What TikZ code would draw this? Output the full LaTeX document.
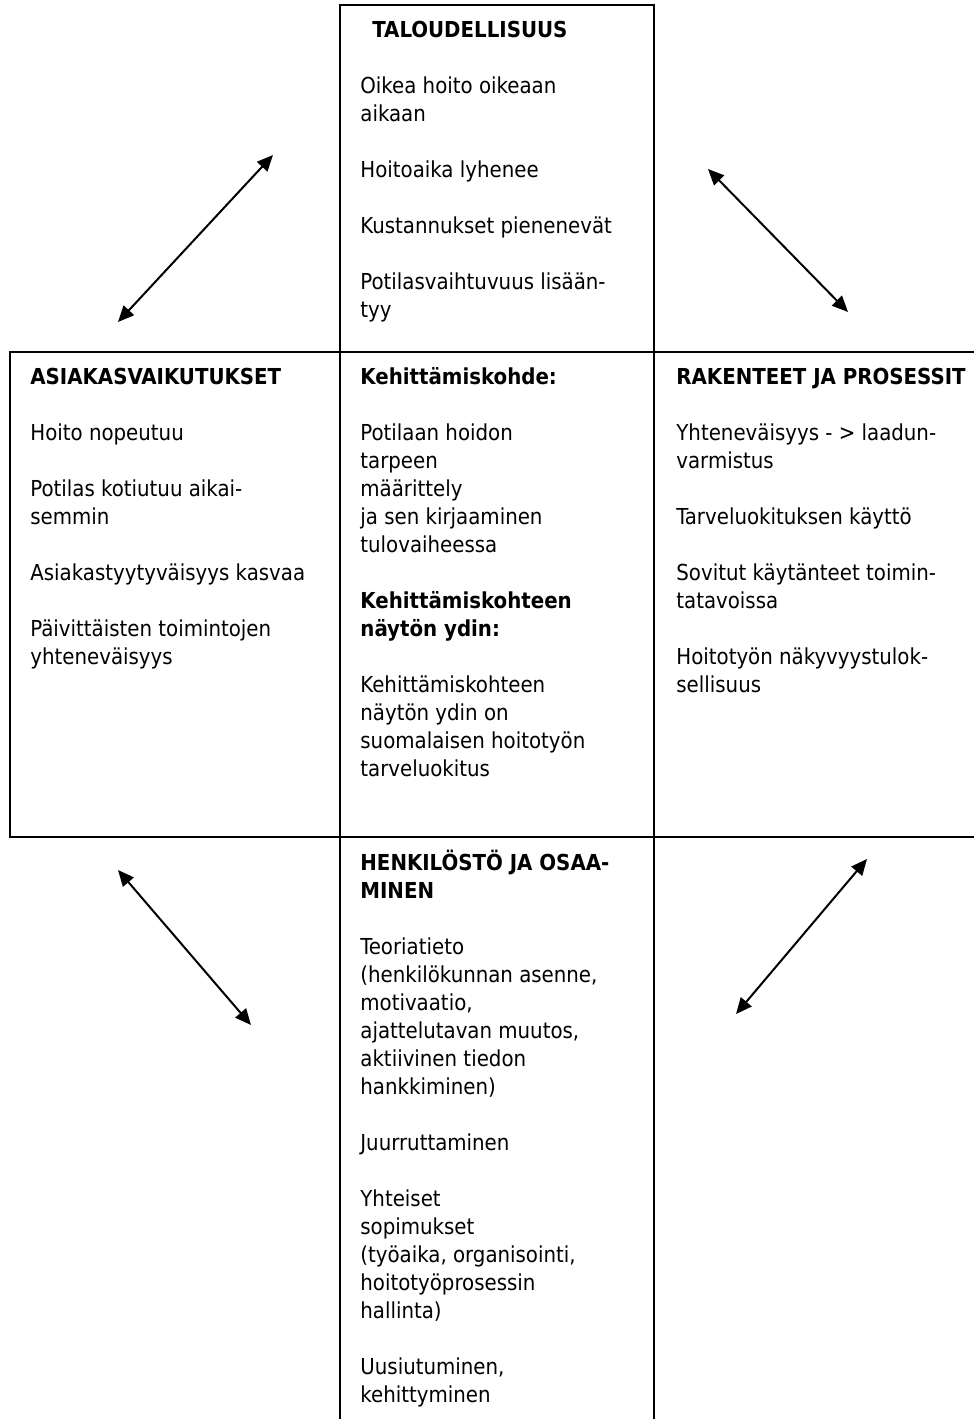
\documentclass[tikz,border=0pt]{standalone}
\usepackage{fontspec}
\setmainfont{DejaVu Sans Condensed}
\usetikzlibrary{arrows.meta}

\newcommand\firststrut{\rule{0pt}{10.5pt}}

\tikzset{
  boxline/.style={line width=0.9pt},
  boxtext/.style={anchor=north west, align=left, inner sep=0pt, font=\fontsize{11}{14}\selectfont},
  dblarrow/.style={line width=1pt, {Triangle[length=8pt,width=7pt]}-{Triangle[length=8pt,width=7pt]}},
}

\begin{document}
\begin{tikzpicture}[x=0.5pt, y=-0.5pt]
    \useasboundingbox (0,0) rectangle (974,1419);

    % Frame of the cross (pixel grid, y grows downwards)
    \draw[boxline] (340,1419) -- (340,5) -- (654,5) -- (654,1419);
    \draw[boxline] (974,352) -- (10,352) -- (10,837) -- (974,837);

    % Texts of the five fields (top of first line = baseline - 21)
    \node[boxtext] (talous) at (360,16) {\firststrut\hspace*{6pt}\textbf{TALOUDELLISUUS}\\[14pt]
        Oikea hoito oikeaan\\ aikaan\\[14pt]
        Hoitoaika lyhenee\\[14pt]
        Kustannukset pienenevät\\[14pt]
        Potilasvaihtuvuus lisään-\\ tyy};

    \node[boxtext] (asiakas) at (30,363) {\firststrut\textbf{ASIAKASVAIKUTUKSET}\\[14pt]
        Hoito nopeutuu\\[14pt]
        Potilas kotiutuu aikai-\\ semmin\\[14pt]
        Asiakastyytyväisyys kasvaa\\[14pt]
        Päivittäisten toimintojen\\ yhteneväisyys};

    \node[boxtext] (kohde) at (360,363) {\firststrut\textbf{Kehittämiskohde:}\\[14pt]
        Potilaan hoidon\\ tarpeen\\ määrittely\\ ja sen kirjaaminen\\ tulovaiheessa\\[14pt]
        \textbf{Kehittämiskohteen}\\ \textbf{näytön ydin:}\\[14pt]
        Kehittämiskohteen\\ näytön ydin on\\ suomalaisen hoitotyön\\ tarveluokitus};

    \node[boxtext] (rakenteet) at (676,363) {\firststrut\textbf{RAKENTEET JA PROSESSIT}\\[14pt]
        Yhteneväisyys - > laadun-\\ varmistus\\[14pt]
        Tarveluokituksen käyttö\\[14pt]
        Sovitut käytänteet toimin-\\ tatavoissa\\[14pt]
        Hoitotyön näkyvyystulok-\\ sellisuus};

    \node[boxtext] (henkilosto) at (360,849) {\firststrut\textbf{HENKILÖSTÖ JA OSAA-}\\ \textbf{MINEN}\\[14pt]
        Teoriatieto\\ (henkilökunnan asenne,\\ motivaatio,\\ ajattelutavan muutos,\\ aktiivinen tiedon\\ hankkiminen)\\[14pt]
        Juurruttaminen\\[14pt]
        Yhteiset\\ sopimukset\\ (työaika, organisointi,\\ hoitotyöprosessin\\ hallinta)\\[14pt]
        Uusiutuminen,\\ kehittyminen};

    % Arrow ends
    \coordinate (nwA) at (118,322);
    \coordinate (nwB) at (273,155);
    \coordinate (neA) at (708,169);
    \coordinate (neB) at (848,312);
    \coordinate (swA) at (118,870);
    \coordinate (swB) at (251,1025);
    \coordinate (seA) at (867,859);
    \coordinate (seB) at (736,1014);

    % Double arrows between the fields
    \foreach \a/\b in {nwA/nwB, neA/neB, swA/swB, seA/seB} {
        \draw[dblarrow] (\a) -- (\b);
    }
\end{tikzpicture}
\end{document}
